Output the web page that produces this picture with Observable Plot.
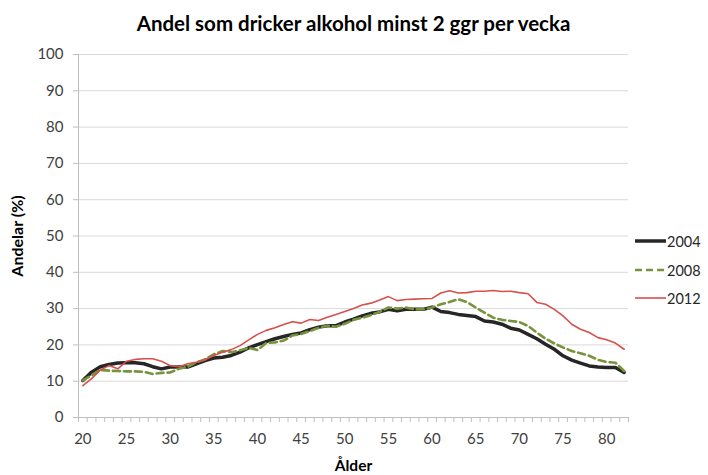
<!DOCTYPE html>
<html>
<head>
<meta charset="utf-8">
<script src="https://cdn.jsdelivr.net/npm/d3@7"></script>
<script src="https://cdn.jsdelivr.net/npm/@observablehq/plot@0.6"></script>
<style>
  html, body { margin: 0; padding: 0; background: #fff; }
  #wrap { position: relative; width: 708px; height: 475px; font-family: Lato, "Open Sans", sans-serif; }
  .leg { position: absolute; left: 634px; display: flex; align-items: center; font-size: 14.5px; color: #262626; height: 20px; }
  .leg svg { margin-right: 1px; }
</style>
</head>
<body>
<div id="wrap"></div>
<script>
const title = "Andel som dricker alkohol minst 2 ggr per vecka";
const xLabel = "Ålder";
const yLabel = "Andelar (%)";
const ages = d3.range(20, 83);
const xTickLabels = [20, 25, 30, 35, 40, 45, 50, 55, 60, 65, 70, 75, 80];
const yTicks = [0, 10, 20, 30, 40, 50, 60, 70, 80, 90, 100];
const seriesNames = ["2004", "2008", "2012"];
const v2004 = [10.2, 12.5, 14.0, 14.6, 15.0, 15.1, 15.1, 14.8, 14.0, 13.4,
  13.9, 13.9, 13.9, 14.8, 15.7, 16.4, 16.6, 17.1, 18.0, 19.2,
  20.1, 20.9, 21.7, 22.3, 22.9, 23.3, 24.2, 24.9, 25.3, 25.3,
  26.3, 27.1, 28.0, 28.7, 29.1, 29.8, 29.4, 29.8, 29.8, 29.8,
  30.4, 29.2, 28.9, 28.4, 28.1, 27.8, 26.6, 26.3, 25.7, 24.6,
  24.1, 22.9, 21.7, 20.2, 18.8, 17.0, 15.8, 15.0, 14.2, 13.9,
  13.8, 13.8, 12.4];
const v2008 = [10.2, 11.6, 13.1, 12.9, 12.8, 12.7, 12.7, 12.6, 12.0, 12.3,
  12.4, 13.4, 14.0, 15.2, 16.0, 17.4, 18.3, 18.0, 18.5, 19.2,
  18.6, 20.5, 20.7, 21.2, 22.6, 23.0, 23.8, 24.7, 25.3, 25.0,
  25.8, 26.9, 27.5, 28.2, 29.1, 30.3, 30.0, 30.3, 29.8, 29.8,
  30.3, 31.2, 31.8, 32.6, 31.8, 30.3, 28.9, 27.5, 26.9, 26.6,
  26.3, 25.2, 23.4, 21.7, 20.4, 19.3, 18.3, 17.7, 17.0, 15.9,
  15.3, 15.1, 12.8];
const v2012 = [8.8, 10.7, 13.1, 14.3, 13.4, 15.5, 16.0, 16.2, 16.2, 15.5,
  14.3, 14.0, 14.8, 15.2, 15.9, 17.1, 18.0, 18.7, 19.8, 21.4,
  22.9, 24.0, 24.7, 25.6, 26.4, 26.0, 27.0, 26.7, 27.6, 28.4,
  29.2, 30.0, 31.0, 31.5, 32.4, 33.3, 32.2, 32.5, 32.6, 32.7,
  32.8, 34.3, 34.9, 34.3, 34.4, 34.8, 34.8, 35.0, 34.7, 34.8,
  34.4, 34.1, 31.7, 31.2, 29.8, 28.0, 25.7, 24.3, 23.4, 22.0,
  21.4, 20.5, 18.8];

const colors = {"2004": "#262626", "2008": "#77933c", "2012": "#d6504c"};
const widths = {"2004": 3.5, "2008": 2.6, "2012": 1.6};
const dashes = {"2004": null, "2008": "7,4", "2012": null};

const rows = s => ages.map((a, i) => ({age: a, value: s.vals[i], series: s.name}));
const d04 = rows({name: "2004", vals: v2004});
const d08 = rows({name: "2008", vals: v2008});
const d12 = rows({name: "2012", vals: v2012});
const boundaries = d3.range(19.5, 83, 1);

const font = "Lato, 'Open Sans', sans-serif";
const chart = Plot.plot({
  width: 708,
  height: 475,
  marginLeft: 78,
  marginRight: 80,
  marginTop: 54,
  marginBottom: 58,
  style: {fontFamily: font, background: "#fff"},
  x: {domain: [19.5, 82.5], axis: null},
  y: {domain: [0, 100], axis: null},
  marks: [
    Plot.gridY(yTicks.filter(d => d > 0), {stroke: "#d9d9d9", strokeOpacity: 1, strokeWidth: 1}),
    Plot.ruleX([19.5], {stroke: "#bfbfbf"}),
    Plot.ruleY([0], {stroke: "#bfbfbf"}),
    Plot.axisY({ticks: yTicks, tickSize: 5, stroke: "#bfbfbf", strokeOpacity: 1, text: null, label: null}),
    Plot.axisY({ticks: yTicks, tickSize: 0, tickPadding: 15, fontSize: 15, fill: "#404040", tickFormat: d => String(d), label: null}),
    Plot.axisX({ticks: boundaries, tickSize: 5, stroke: "#bfbfbf", strokeOpacity: 1, text: null, label: null}),
    Plot.axisX({ticks: xTickLabels, tickSize: 0, tickPadding: 16, fontSize: 15, fill: "#404040", tickFormat: d => String(d), label: null}),
    Plot.line(d04, {x: "age", y: "value", stroke: colors["2004"], strokeWidth: widths["2004"], strokeLinejoin: "round"}),
    Plot.line(d08, {x: "age", y: "value", stroke: colors["2008"], strokeWidth: widths["2008"], strokeDasharray: dashes["2008"]}),
    Plot.line(d12, {x: "age", y: "value", stroke: colors["2012"], strokeWidth: widths["2012"]}),
    Plot.text([title], {frameAnchor: "top", lineAnchor: "middle", dy: -30, fontSize: 20.5, fontWeight: "bold", fill: "#000"}),
    Plot.text([xLabel], {frameAnchor: "bottom", lineAnchor: "middle", dy: 49, fontSize: 15.5, fontWeight: "bold", fill: "#000"}),
    Plot.text([yLabel], {frameAnchor: "left", textAnchor: "middle", lineAnchor: "middle", dx: -61, rotate: -90, fontSize: 16, fontWeight: "bold", fill: "#000"})
  ]
});
const wrap = document.getElementById("wrap");
wrap.appendChild(chart);
const legTops = [231, 260, 288];
seriesNames.forEach((name, i) => {
  const div = document.createElement("div");
  div.className = "leg";
  div.style.top = legTops[i] + "px";
  const dash = dashes[name] ? `stroke-dasharray="${dashes[name]}"` : "";
  div.innerHTML = `<svg width="32" height="8"><line x1="1" y1="4" x2="32" y2="4" stroke="${colors[name]}" stroke-width="${widths[name]}" ${dash}></line></svg><span>${name}</span>`;
  wrap.appendChild(div);
});
</script>
</body>
</html>
